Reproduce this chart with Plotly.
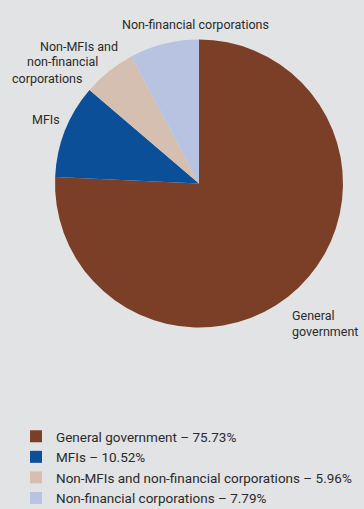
import plotly.graph_objects as go

# holders of debt, shares in %
categories = ['General government', 'MFIs',
              'Non-MFIs and non-financial corporations',
              'Non-financial corporations']
shares = [75.73, 10.52, 5.96, 7.79]
colors = ['#7b3f28', '#0b4f98', '#d5bfb1', '#b8c2e1']

legend_names = [f'{c} – {v:.2f}%' for c, v in zip(categories, shares)]

W, H = 364, 509

fig = go.Figure(go.Pie(
    labels=legend_names,
    values=shares,
    sort=False,
    direction='clockwise',
    rotation=0,
    marker=dict(colors=colors, line=dict(width=0)),
    textinfo='none',
    hoverinfo='label',
    domain=dict(x=[55 / W, 343 / W], y=[1 - 327.5 / H, 1 - 39.5 / H]),
))

# outside slice labels (pixel spots from the top-left corner)
font_lbl = dict(family='Roboto, sans-serif', size=12.5, color='#2b2b2b')
label_spots = [
    (['General', 'government'], [(291, 315), (291, 331)]),
    (['MFIs'], [(31, 119)]),
    (['Non-MFIs and', 'non-financial', 'corporations'], [(39, 46), (26, 62), (11, 78)]),
    (['Non-financial corporations'], [(121, 25)]),
]
for lines, spots in label_spots:
    for txt, (px_, py_) in zip(lines, spots):
        fig.add_annotation(x=px_ / W, y=1 - py_ / H, xref='paper', yref='paper',
                           text=txt, showarrow=False, xanchor='left', yanchor='middle',
                           xshift=-1, font=font_lbl)

fig.update_layout(
    width=W, height=H,
    margin=dict(l=0, r=0, t=0, b=0, autoexpand=False),
    paper_bgcolor='#e2e3e5',
    plot_bgcolor='#e2e3e5',
    showlegend=True,
    legend=dict(x=16 / W, y=1 - 421 / H, xanchor='left', yanchor='top',
                font=dict(family='Roboto, sans-serif', size=13.5, color='#2b2b2b'),
                bgcolor='rgba(0,0,0,0)', traceorder='normal'),
)

fig.write_html('out.html', config={'displayModeBar': False},
               post_script="document.body.style.margin='0';")
